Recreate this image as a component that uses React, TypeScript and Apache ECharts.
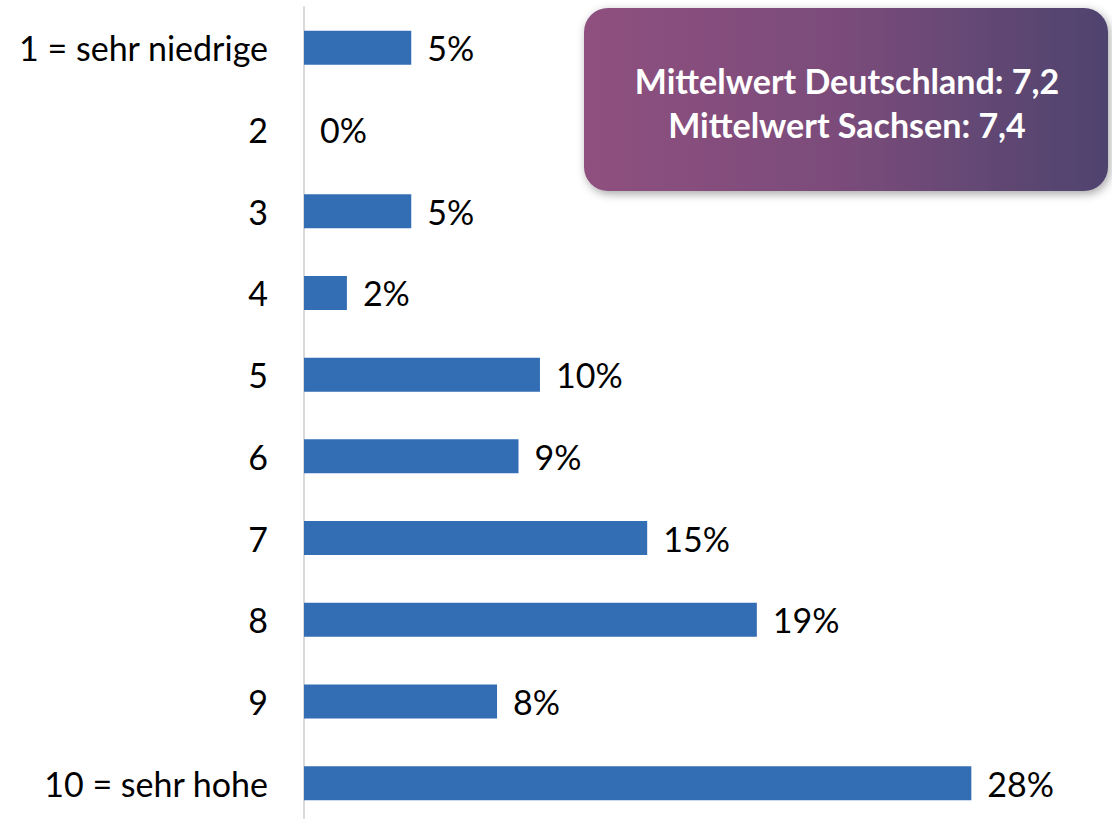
import React, { useEffect, useRef } from "react";
import * as echarts from "echarts";

const categories = [
  "1 = sehr niedrige",
  "2",
  "3",
  "4",
  "5",
  "6",
  "7",
  "8",
  "9",
  "10 = sehr hohe",
];
const values = [4.5, 0, 4.5, 1.8, 9.9, 9.0, 14.4, 19.0, 8.1, 28.0];
const valueLabels = ["5%", "0%", "5%", "2%", "10%", "9%", "15%", "19%", "8%", "28%"];
const boxLines = ["Mittelwert Deutschland: 7,2", "Mittelwert Sachsen: 7,4"];

const FONT = "Lato, 'Noto Sans', sans-serif";

export default function App() {
  const ref = useRef<HTMLDivElement>(null);
  useEffect(() => {
    if (!ref.current) return;
    const chart = echarts.init(ref.current, null, { renderer: "svg" });
    chart.setOption({
      animation: false,
      backgroundColor: "#ffffff",
      grid: { left: 304, right: 93, top: 7, bottom: 6, containLabel: false },
      xAxis: {
        type: "value",
        min: 0,
        max: 30,
        show: false,
      },
      yAxis: {
        type: "category",
        data: categories,
        inverse: true,
        axisTick: { show: false },
        axisLine: { show: true, lineStyle: { color: "#d9d9d9", width: 2 } },
        axisLabel: {
          color: "#000000",
          fontSize: 34,
          fontFamily: FONT,
          margin: 36,
        },
        splitLine: { show: false },
      },
      series: [
        {
          type: "bar",
          data: values,
          barWidth: 34,
          itemStyle: { color: "#336db3" },
          label: {
            show: true,
            position: "right",
            distance: 16,
            color: "#000000",
            fontSize: 34,
            fontFamily: FONT,
            formatter: (p: any) => valueLabels[p.dataIndex],
          },
        },
      ],
      graphic: [
        {
          type: "rect",
          shape: { x: 584, y: 8, width: 524, height: 183, r: 24 },
          style: {
            fill: new echarts.graphic.LinearGradient(0, 0, 1, 0, [
              { offset: 0, color: "#8f507f" },
              { offset: 0.5, color: "#7a4c7a" },
              { offset: 1, color: "#4e436e" },
            ]),
            shadowBlur: 10,
            shadowOffsetX: 2,
            shadowOffsetY: 3,
            shadowColor: "rgba(0,0,0,0.35)",
          },
        },
        {
          type: "text",
          x: 847,
          y: 80,
          style: {
            text: boxLines[0],
            fill: "#ffffff",
            font: `bold 34px ${FONT}`,
            textAlign: "center",
            textVerticalAlign: "middle",
          },
        },
        {
          type: "text",
          x: 847,
          y: 124,
          style: {
            text: boxLines[1],
            fill: "#ffffff",
            font: `bold 34px ${FONT}`,
            textAlign: "center",
            textVerticalAlign: "middle",
          },
        },
      ],
    });
    return () => chart.dispose();
  }, []);
  return (
    <div
      ref={ref}
      style={{ position: "fixed", left: 0, top: 0, width: 1112, height: 830 }}
    />
  );
}
